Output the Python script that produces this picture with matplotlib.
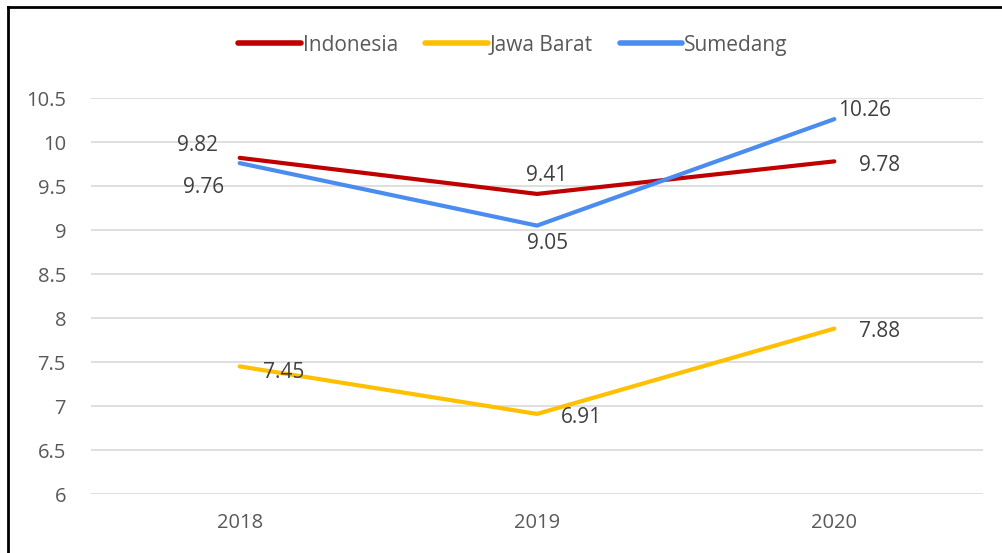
import matplotlib.pyplot as plt
from matplotlib.lines import Line2D

plt.rcParams['font.family'] = ['Open Sans', 'DejaVu Sans']

years = ['2018', '2019', '2020']
indonesia = [9.82, 9.41, 9.78]
jawa_barat = [7.45, 6.91, 7.88]
sumedang = [9.76, 9.05, 10.26]

fig = plt.figure(figsize=(10.02, 5.53), dpi=100)
ax = fig.add_axes([91 / 1002, 1 - 494 / 553, (983 - 91) / 1002, (494 - 98) / 553])

x = range(len(years))
ax.plot(x, indonesia, color='#C00000', lw=3.0, label='Indonesia', solid_capstyle='round')
ax.plot(x, jawa_barat, color='#FFC000', lw=3.0, label='Jawa Barat', solid_capstyle='round')
ax.plot(x, sumedang, color='#4A8CF0', lw=3.0, label='Sumedang', solid_capstyle='round')

ax.set_xlim(-0.5, 2.5)
ax.set_ylim(6, 10.5)
ax.set_yticks([6, 6.5, 7, 7.5, 8, 8.5, 9, 9.5, 10, 10.5])
ax.set_yticklabels(['6', '6.5', '7', '7.5', '8', '8.5', '9', '9.5', '10', '10.5'])
ax.set_xticks(list(x))
ax.set_xticklabels(years)
ax.grid(axis='y', color='#D9D9D9', lw=1.2)
ax.set_axisbelow(True)
for s in ax.spines.values():
    s.set_visible(False)
ax.tick_params(length=0, labelsize=14.5, labelcolor='#595959')
ax.tick_params(axis='y', pad=18)
ax.tick_params(axis='x', pad=14)

# data labels, offsets in pixels from the point
offsets = {
    'ind': [(-42, 12), (10, 18), (45, -4)],
    'jb': [(44, -6), (44, -4), (45, -3)],
    'sum': [(-36, -24), (11, -18), (30, 9)],
}
def label(vals, offs):
    for i, v in enumerate(vals):
        dx, dy = offs[i]
        ax.annotate(f'{v:.2f}', (i, v), xytext=(dx * 0.72, dy * 0.72), textcoords='offset points',
                    ha='center', va='center', fontsize=15, color='#404040')
label(indonesia, offsets['ind'])
label(jawa_barat, offsets['jb'])
label(sumedang, offsets['sum'])

handles = [Line2D([], [], color=c, lw=4, solid_capstyle='round') for c in ['#C00000', '#FFC000', '#4A8CF0']]
fig.legend(handles, ['Indonesia', 'Jawa Barat', 'Sumedang'], loc='center', bbox_to_anchor=(513 / 1002, 1 - 45 / 553),
           ncol=3, frameon=False, fontsize=15, handlelength=3.0, handletextpad=0.1, columnspacing=1.3,
           labelcolor='#595959')

# outer border (right and bottom edges are cut off in the original)
fig.add_artist(Line2D([8 / 1002, 8 / 1002], [0, 1 - 7 / 553], transform=fig.transFigure, color='black', lw=2))
fig.add_artist(Line2D([8 / 1002, 1], [1 - 7 / 553, 1 - 7 / 553], transform=fig.transFigure, color='black', lw=2))

fig.savefig('out.png', dpi=100)
